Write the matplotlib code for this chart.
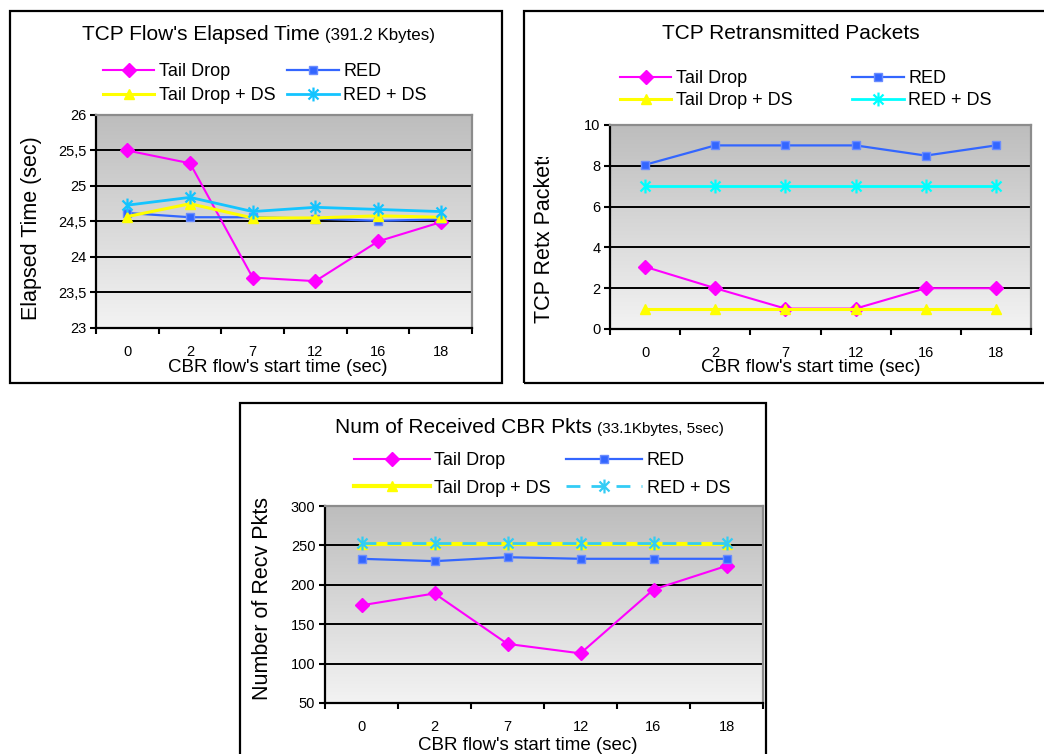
import numpy as np
import matplotlib
matplotlib.use("Agg")
import matplotlib.pyplot as plt
from matplotlib.path import Path
from matplotlib.patches import Rectangle
from matplotlib.colors import LinearSegmentedColormap

plt.rcParams['font.family'] = ['Liberation Sans', 'DejaVu Sans']

# ---- data ----
categories = ['0', '2', '7', '12', '16', '18']
series_names = ['Tail Drop', 'RED', 'Tail Drop + DS', 'RED + DS']

elapsed_taildrop = [25.50, 25.32, 23.71, 23.66, 24.22, 24.49]
elapsed_red = [24.62, 24.56, 24.56, 24.54, 24.51, 24.53]
elapsed_taildrop_ds = [24.57, 24.75, 24.55, 24.55, 24.58, 24.56]
elapsed_red_ds = [24.73, 24.84, 24.64, 24.70, 24.67, 24.64]
elapsed_yticks = [23, 23.5, 24, 24.5, 25, 25.5, 26]
elapsed_ylabels = ['23', '23,5', '24', '24,5', '25', '25,5', '26']

retx_taildrop = [3.05, 2, 1, 1, 2, 2]
retx_red = [8.05, 9, 9, 9, 8.5, 9]
retx_taildrop_ds = [1, 1, 1, 1, 1, 1]
retx_red_ds = [7, 7, 7, 7, 7, 7]
retx_yticks = [0, 2, 4, 6, 8, 10]
retx_ylabels = ['0', '2', '4', '6', '8', '10']

cbr_taildrop = [174, 189, 125, 113, 194, 224]
cbr_red = [233, 230, 235, 233, 233, 233]
cbr_taildrop_ds = [252, 252, 252, 252, 252, 252]
cbr_red_ds = [253, 253, 253, 253, 253, 253]
cbr_yticks = [50, 100, 150, 200, 250, 300]
cbr_ylabels = ['50', '100', '150', '200', '250', '300']

W, H = 1044, 754
fig = plt.figure(figsize=(W / 100, H / 100), dpi=100)
fig.patch.set_facecolor('white')


def fx(px):
    return px / W


def fy(py):
    return 1 - py / H


# asterisk marker: X plus a vertical stroke
d = 0.72
star = Path([(0, -1), (0, 1), (-d, -d), (d, d), (-d, d), (d, -d)],
            [Path.MOVETO, Path.LINETO, Path.MOVETO, Path.LINETO,
             Path.MOVETO, Path.LINETO])

bg_cmap = LinearSegmentedColormap.from_list('bg', ['#f3f3f3', '#bdbdbd'])


def make_axes(left, top, right, bottom):
    ax = fig.add_axes([fx(left), fy(bottom), fx(right - left), (bottom - top) / H])
    ax.set_axisbelow(True)
    grad = np.linspace(0, 1, 256)[:, None]
    ax.imshow(grad, extent=(0, 1, 0, 1), transform=ax.transAxes, aspect='auto',
              cmap=bg_cmap, origin='lower', zorder=0, interpolation='bicubic')
    return ax


def style_axes(ax, yticks, ylabels):
    n = len(categories)
    ax.set_xlim(-0.5, n - 0.5)
    ax.set_ylim(yticks[0], yticks[-1])
    ax.set_xticks(np.arange(n + 1) - 0.5)
    ax.set_xticklabels([])
    ax.set_xticks(np.arange(n), minor=True)
    ax.set_xticklabels(categories, minor=True, fontsize=10.5)
    ax.tick_params(axis='x', which='major', direction='out', length=4,
                   width=1.5, color='black')
    ax.tick_params(axis='x', which='minor', length=0, pad=12)
    ax.set_yticks(yticks)
    ax.set_yticklabels(ylabels, fontsize=10.5)
    ax.tick_params(axis='y', direction='out', length=4, width=1.5,
                   color='black', pad=3)
    ax.yaxis.grid(True, color='black', lw=1.4)
    for s in ('left', 'bottom'):
        ax.spines[s].set_color('black')
        ax.spines[s].set_linewidth(1.6)
    for s in ('top', 'right'):
        ax.spines[s].set_color('#8c8c8c')
        ax.spines[s].set_linewidth(1.6)


def plot_series(ax, td, red, tdds, redds, redds_color, redds_ls='-',
                tdds_lw=2.2):
    x = np.arange(len(categories))
    h1, = ax.plot(x, td, color='#ff00ff', lw=1.5, marker='D',
                  ms=7, mec='#ff00ff', mfc='#ff00ff',
                  label=series_names[0])
    h2, = ax.plot(x, red, color='#3366ff', lw=1.6, marker='s',
                  ms=5.2, mfc='#3366ff', mec='#6a8cff', mew=1,
                  label=series_names[1])
    h3, = ax.plot(x, tdds, color='#ffff00', lw=tdds_lw, marker='^',
                  ms=7.5, mfc='#ffff00', mec='#ffff00',
                  label=series_names[2])
    h4, = ax.plot(x, redds, color=redds_color, lw=2.0, ls=redds_ls,
                  marker=star, ms=10, mfc='none',
                  mec=redds_color, mew=1.6, label=series_names[3])
    return [h1, h3, h2, h4]


def frame(left, top, right, bottom):
    fig.patches.append(Rectangle((fx(left), fy(bottom)), fx(right - left),
                                 (bottom - top) / H, transform=fig.transFigure,
                                 fill=False, ec='black', lw=1.6))


def legend(handles, x, y, handlelength, colspacing, labelspacing):
    fig.legend(handles, [h.get_label() for h in handles], loc='upper left',
               bbox_to_anchor=(fx(x), fy(y)), ncol=2, frameon=False,
               fontsize=13, handlelength=handlelength, handletextpad=0.25,
               columnspacing=colspacing, labelspacing=labelspacing,
               borderpad=0, borderaxespad=0, numpoints=1)


def title(x, y, main, sub=None, subsize=12):
    t = fig.text(fx(x), fy(y), main, fontsize=15, ha='left', va='baseline')
    if sub:
        fig.add_artist(plt.Annotation(sub, xy=(1, 0), xycoords=t,
                                      xytext=(4, 1), textcoords='offset points',
                                      fontsize=subsize, ha='left', va='bottom'))


# ---- panel frames ----
frame(10, 11, 502, 383)
frame(524, 11, 1050, 383)
frame(240, 403, 766, 770)

# ---- panel 1: elapsed time ----
ax1 = make_axes(96, 115, 472, 328)
hs = plot_series(ax1, elapsed_taildrop, elapsed_red, elapsed_taildrop_ds,
                 elapsed_red_ds, '#14c4ff')
style_axes(ax1, elapsed_yticks, elapsed_ylabels)
title(82, 40, "TCP Flow's Elapsed Time", "(391.2 Kbytes)", 12.2)
legend(hs, 103, 63, 2.85, 0.65, 0.4)
fig.text(fx(32), fy(228), "Elapsed Time (sec)", fontsize=15.5,
         rotation=90, ha='center', va='center')
fig.text(fx(278), fy(368), "CBR flow's start time (sec)", fontsize=13.5,
         ha='center', va='center')

# ---- panel 2: retransmitted packets ----
ax2 = make_axes(610, 125, 1031, 329)
hs = plot_series(ax2, retx_taildrop, retx_red, retx_taildrop_ds,
                 retx_red_ds, '#00ffff')
style_axes(ax2, retx_yticks, retx_ylabels)
title(662, 39, "TCP Retransmitted Packets")
legend(hs, 620, 70, 2.85, 3.3, 0.3)
ylab2 = fig.text(fx(545), fy(323), "TCP Retx Packets", fontsize=15.5,
                 rotation=90, ha='center', va='bottom')
ylab2.set_clip_path(Rectangle((0, 0), 1, fy(157), transform=fig.transFigure))
fig.text(fx(811), fy(368), "CBR flow's start time (sec)", fontsize=13.5,
         ha='center', va='center')

# ---- panel 3: received CBR packets ----
ax3 = make_axes(325, 506, 763, 703)
hs = plot_series(ax3, cbr_taildrop, cbr_red, cbr_taildrop_ds, cbr_red_ds,
                 '#33ccf5', redds_ls=(0, (5, 4)), tdds_lw=3.0)
style_axes(ax3, cbr_yticks, cbr_ylabels)
title(335, 433, "Num of Received CBR Pkts", "(33.1Kbytes, 5sec)", 11)
legend(hs, 354, 452, 4.2, 0.85, 0.59)
fig.text(fx(262), fy(598), "Number of Recv Pkts", fontsize=15.5,
         rotation=90, ha='center', va='center')
fig.text(fx(528), fy(745), "CBR flow's start time (sec)", fontsize=13.5,
         ha='center', va='center')

fig.savefig('out.png', dpi=100, facecolor='white')
